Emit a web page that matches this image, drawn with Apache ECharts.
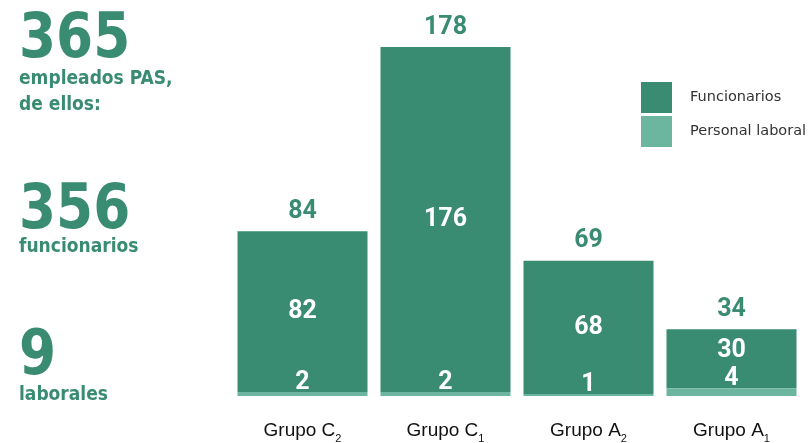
<!DOCTYPE html>
<html><head><meta charset="utf-8">
<script src="https://cdn.jsdelivr.net/npm/echarts@6/dist/echarts.min.js"></script>
<style>html,body{margin:0;padding:0;background:#fff}#c{width:810px;height:443px}</style>
</head><body><div id="c"></div>
<script>
const categories = ['C|2', 'C|1', 'A|2', 'A|1'];
const funcionarios = [82, 176, 68, 30];
const laborales = [2, 2, 1, 4];
const totals = [84, 178, 69, 34];

const dark = '#398b72', light = '#6cb6a0';
const chart = echarts.init(document.getElementById('c'));
const bigFont = '"DejaVu Sans Condensed", "DejaVu Sans", sans-serif';
const numFont = 'Roboto, sans-serif';
chart.setOption({
  animation: false,
  grid: { left: 231, width: 572, top: 43, bottom: 47, containLabel: false, outerBoundsMode: 'none' },
  legend: {
    orient: 'vertical', left: 636, top: 77, itemWidth: 31, itemHeight: 31, itemGap: 3,
    icon: 'rect', data: ['Funcionarios', 'Personal laboral'],
    textStyle: { fontFamily: '"DejaVu Sans", sans-serif', fontSize: 14.5, color: '#333', padding: [0, 0, 0, 13] }
  },
  xAxis: {
    type: 'category', data: categories,
    axisLine: { show: false }, axisTick: { show: false },
    axisLabel: {
      margin: 25,
      formatter: v => { const p = v.split('|'); return '{a|Grupo ' + p[0] + '}{s|' + p[1] + '}'; },
      rich: {
        a: { fontFamily: 'Liberation Sans, Arial, sans-serif', fontSize: 19, color: '#111', lineHeight: 20 },
        s: { fontFamily: 'Liberation Sans, Arial, sans-serif', fontSize: 11, color: '#111', lineHeight: 11, verticalAlign: 'bottom', padding: [0, 0, -3, 0] }
      }
    }
  },
  yAxis: { type: 'value', min: 0, max: 180, show: false },
  series: [
    {
      name: 'Personal laboral', type: 'bar', stack: 's', barWidth: 130,
      itemStyle: { color: light }, data: laborales,
      label: { show: true, position: 'top', distance: -3, color: '#fff', fontFamily: numFont, fontWeight: 'bold', fontSize: 25 },
      z: 3
    },
    {
      name: 'Funcionarios', type: 'bar', stack: 's', barWidth: 130,
      itemStyle: { color: dark },
      data: funcionarios.map((v, i) => i === 3 ? { value: v, label: { position: 'insideTop', distance: 9 } } : v),
      label: { show: true, position: 'inside', color: '#fff', fontFamily: numFont, fontWeight: 'bold', fontSize: 25 },
      z: 2
    },
    {
      name: 'total', type: 'bar', stack: 's', barWidth: 130,
      itemStyle: { color: 'transparent' },
      data: totals.map(() => 0),
      label: { show: true, position: 'top', distance: 7, color: dark, fontFamily: numFont, fontWeight: 'bold', fontSize: 25,
        formatter: p => totals[p.dataIndex] },
      z: 4
    }
  ],
  graphic: [
    { type: 'text', x: 19, y: 10, scaleX: 0.955, style: { text: '365', font: 'bold 62px ' + bigFont, fill: dark } },
    { type: 'text', left: 19, top: 66, style: { text: 'empleados PAS,\nde ellos:', font: 'bold 19px ' + bigFont, fill: dark, lineHeight: 26 } },
    { type: 'text', x: 19, y: 181, scaleX: 0.955, style: { text: '356', font: 'bold 62px ' + bigFont, fill: dark } },
    { type: 'text', left: 19, top: 238, style: { text: 'funcionarios', font: 'bold 19px ' + bigFont, fill: dark } },
    { type: 'text', x: 19, y: 327, scaleX: 0.955, style: { text: '9', font: 'bold 62px ' + bigFont, fill: dark } },
    { type: 'text', left: 19, top: 386, style: { text: 'laborales', font: 'bold 19px ' + bigFont, fill: dark } }
  ]
});
</script></body></html>
